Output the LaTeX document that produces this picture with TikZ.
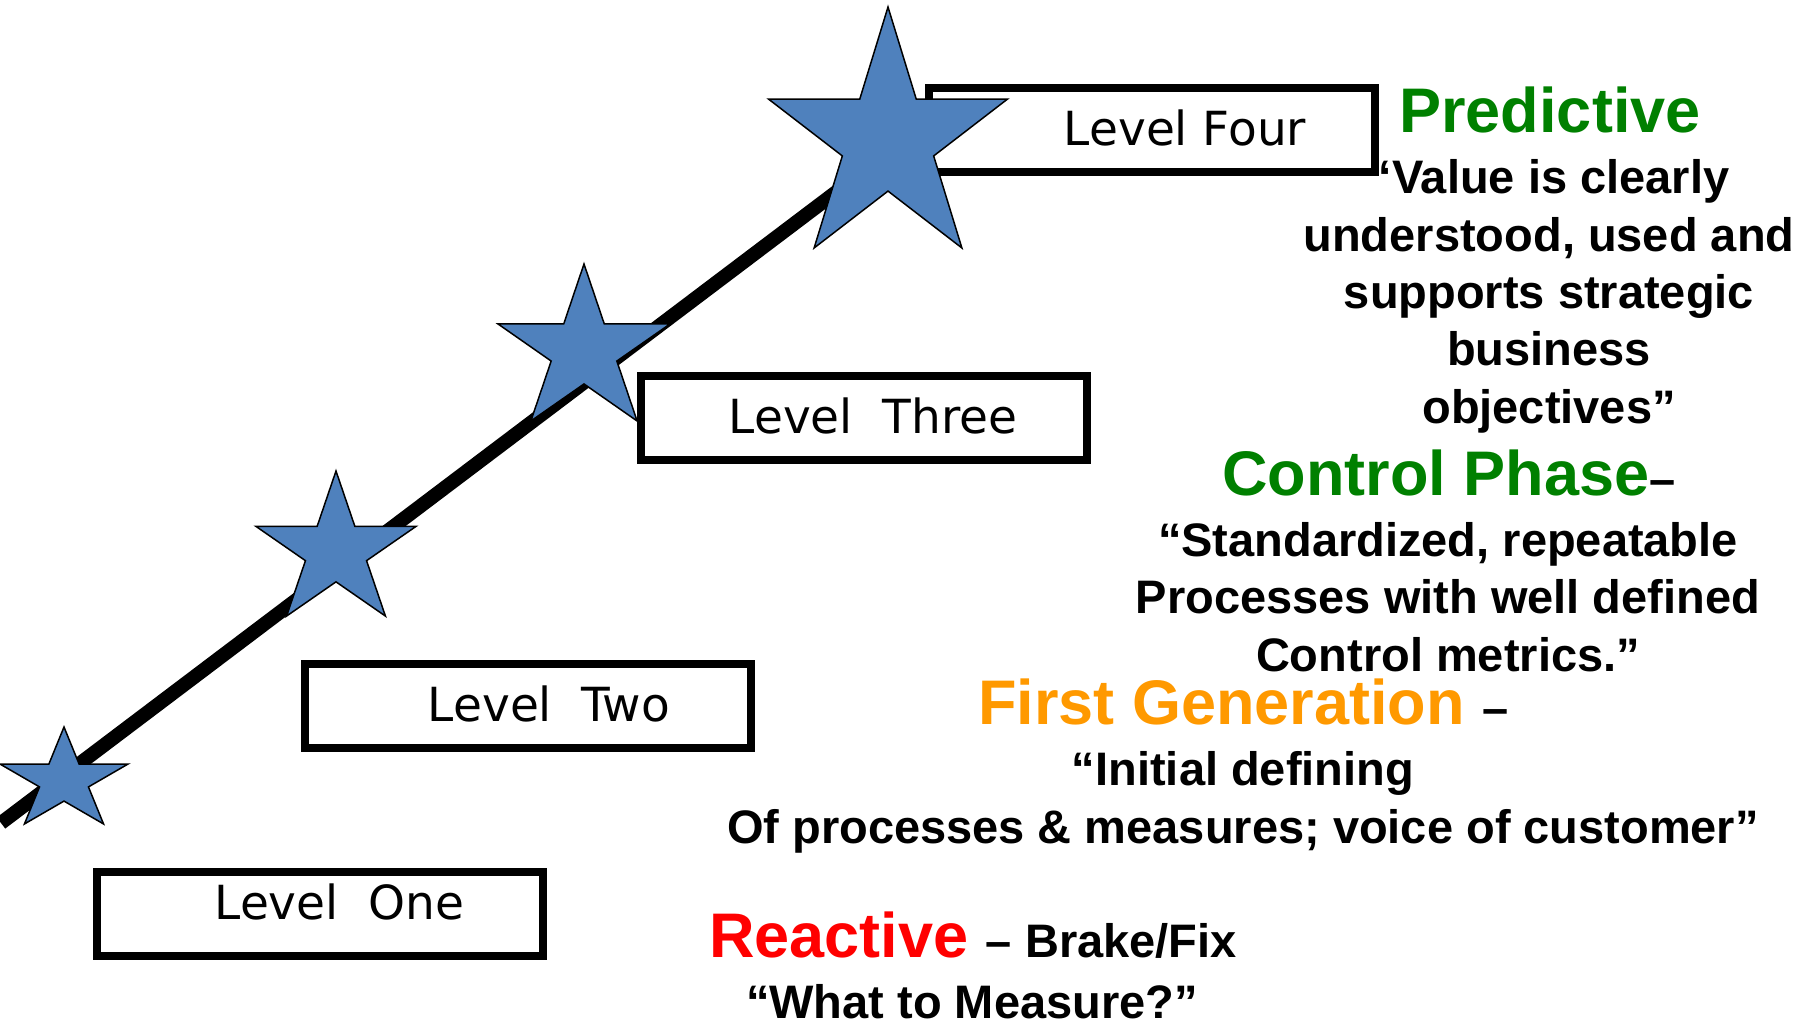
\documentclass[tikz,border=0pt]{standalone}
\usepackage{fontspec}
\setmainfont{Liberation Sans}
\newfontfamily\lvlfont{DejaVu Sans}
\usepackage{xcolor}
\usepackage{tikz}
\usetikzlibrary{positioning}

\definecolor{phasegreen}{HTML}{008000}
\definecolor{phaseorange}{HTML}{FF9900}
\definecolor{phasered}{HTML}{FF0000}
\definecolor{starblue}{HTML}{4F81BD}
\newcommand{\headsize}{\fontsize{31.5}{36}\selectfont}
\newcommand{\bodysize}{\fontsize{23.5}{28.65}\selectfont}

\begin{document}
\begin{tikzpicture}[x=0.5pt, y=-0.5pt]
            % Block styles
            \tikzstyle{levelbox} = [rectangle, draw, line width=4pt, minimum width=223pt, minimum height=42pt, inner sep=0pt]
            \tikzstyle{leveltext} = [anchor=base, inner sep=0pt, font=\lvlfont\fontsize{23.5}{28}\selectfont]
            \tikzstyle{levelstar} = [fill=starblue, draw=black, line width=0.75pt]
            \tikzstyle{phasehead} = [anchor=base, inner sep=0pt, font=\bfseries\headsize]
            \tikzstyle{phasequote} = [anchor=base, inner sep=0pt, align=center, font=\bfseries\bodysize]
            \useasboundingbox (0,0) rectangle (1816,1023);
            % Rising line
            \coordinate (start) at (1,823);
            \coordinate (peak) at (860,174);
            \draw[line width=7pt] (start) -- (peak);
            % Level boxes
            \node[levelbox] (one) at (319.5,914) {};
            \node[levelbox] (two) at (528,706) {};
            \node[levelbox] (three) at (864,418) {};
            \node[levelbox] (four) at (1151.5,129.8) {};
            \node[leveltext] (one_text) at (339.5,919) {Level\ \ One};
            \node[leveltext] (two_text) at (549,721) {Level\ \ Two};
            \node[leveltext] (three_text) at (873,433) {Level\ \ Three};
            \node[leveltext] (four_text) at (1185,145) {Level Four};
            % Stars
            \foreach \cx/\cy/\rx/\ry in {64/780.6/67.3/53.6, 336/551.2/84.1/80.2, 584/350.8/90.4/86.8, 888/140.2/125.7/133.2}
                \draw[levelstar, shift={(\cx,\cy)}, xscale=\rx, yscale=-\ry] (90:1) -- (126:0.382) -- (162:1) -- (198:0.382) -- (234:1) -- (270:0.382) -- (306:1) -- (342:0.382) -- (18:1) -- (54:0.382) -- cycle;
            % Phase descriptions (base = last line)
            \node[phasehead, phasegreen] (predictive) at (1550,132) {Predictive};
            \node[phasequote] (predictive_quote) at (1549,423) {“Value is clearly\\understood, used and\\supports strategic\\business\\objectives”};
            \node[phasehead, phasegreen] (control) at (1449,495) {Control Phase{\color{black}\bodysize–}};
            \node[phasequote] (control_quote) at (1448,671) {“Standardized, repeatable\\Processes with well defined\\Control metrics.”};
            \node[phasehead, phaseorange] (first) at (1243.5,724) {First Generation {\color{black}\bodysize –}};
            \node[phasequote] (first_quote) at (1243,843) {“Initial defining\\Of processes \& measures; voice of customer”};
            \node[phasehead, phasered] (reactive) at (973,957) {Reactive {\color{black}\bodysize – Brake/Fix}};
            \node[phasequote] (reactive_quote) at (972,1018) {“What to Measure?”};
        \end{tikzpicture}
\end{document}
